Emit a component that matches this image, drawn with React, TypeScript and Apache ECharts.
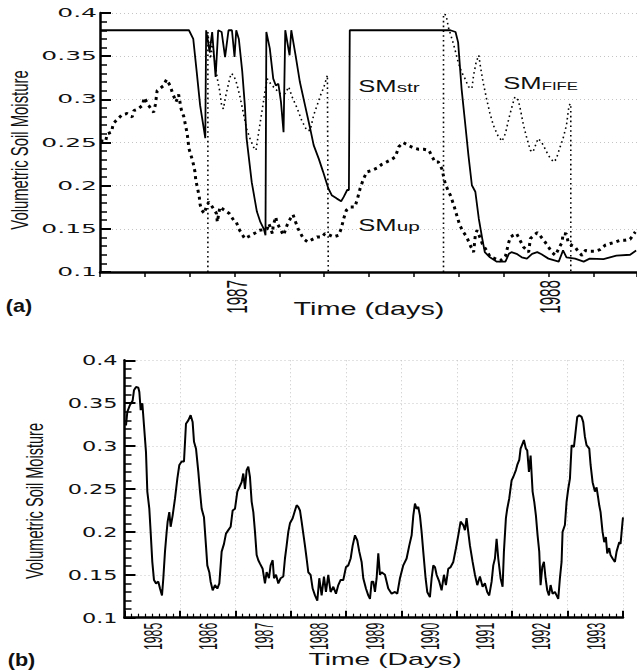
import React, { useEffect, useRef } from "react";
import * as echarts from "echarts";

// ---------- axis definitions ----------
const DAYS_PER_TICK = 365 / 7; // top panel: one tick every ~52 days
const TOP_X_MIN_TICK = -3;
const TOP_X_MAX_DAY = 468; // days from 1 Jan 1987
const BOTTOM_X_MIN = 1985;
const BOTTOM_X_MAX = 1994;

const yTickValues = [0.1, 0.15, 0.2, 0.25, 0.3, 0.35, 0.4];
const yTickLabels = ["0.1", "0.15", "0.2", "0.25", "0.3", "0.35", "0.4"];
const topYearDays = [0, 365];
const topYearLabels = ["1987", "1988"];
const bottomYears = ["1985", "1986", "1987", "1988", "1989", "1990", "1991", "1992", "1993"];

// ---------- panel (a): [day since 1 Jan 1987, volumetric soil moisture] ----------
const smStr: [number, number][] = [
  [-156, 0.38], [-53, 0.38], [-48, 0.37], [-44, 0.332], [-40, 0.293], [-34, 0.255],
  [-33, 0.38], [-29, 0.355], [-26, 0.378], [-22, 0.326], [-19, 0.38], [-15, 0.378],
  [-11, 0.349], [-7, 0.38], [-3, 0.38], [0, 0.349], [2, 0.38], [5, 0.37], [9, 0.332],
  [12, 0.293], [14, 0.255], [20, 0.204], [26, 0.17], [30, 0.158], [34, 0.15], [36, 0.1425],
  [37, 0.378], [41, 0.359], [45, 0.324], [48, 0.316], [51, 0.318], [54, 0.297], [57, 0.262],
  [59, 0.38], [64, 0.351], [66, 0.38], [71, 0.351], [76, 0.32], [82, 0.293], [88, 0.266],
  [92, 0.247], [98, 0.231], [103, 0.216], [109, 0.197], [113, 0.189], [119, 0.185],
  [124, 0.182], [127, 0.187], [131, 0.195], [133, 0.195], [134, 0.38], [251, 0.38],
  [257, 0.378], [260, 0.366], [264, 0.3125], [268, 0.274], [272, 0.235], [276, 0.2005],
  [280, 0.193], [284, 0.162], [288, 0.139], [291, 0.123], [297, 0.117], [305, 0.112],
  [315, 0.112], [319, 0.121], [322, 0.123], [328, 0.121], [334, 0.117], [340, 0.1155],
  [346, 0.121], [352, 0.123], [357, 0.1205], [365, 0.1155], [377, 0.112], [382, 0.125],
  [386, 0.117], [396, 0.1155], [406, 0.112], [413, 0.1155], [429, 0.115], [444, 0.119],
  [460, 0.12], [467, 0.125],
];

const smUp: [number, number][] = [
  [-156, 0.252], [-150, 0.251], [-148, 0.26], [-143, 0.262], [-141, 0.272], [-135, 0.278],
  [-131, 0.282], [-125, 0.2835], [-119, 0.2796], [-117, 0.287], [-112, 0.289], [-107, 0.293],
  [-105, 0.302], [-100, 0.293], [-94, 0.285], [-92, 0.294], [-90, 0.31], [-83, 0.3155],
  [-79, 0.323], [-75, 0.316], [-72, 0.307], [-68, 0.297], [-65, 0.3055], [-62, 0.2885],
  [-59, 0.28], [-57, 0.27], [-55, 0.26], [-53, 0.243], [-50, 0.233], [-48, 0.2256],
  [-46, 0.216], [-45, 0.206], [-43, 0.197], [-41, 0.187], [-40, 0.178], [-38, 0.1715],
  [-35, 0.1677], [-33, 0.1753], [-30, 0.181], [-27, 0.1773], [-21, 0.1677], [-20, 0.158],
  [-17, 0.1753], [-10, 0.1703], [-6, 0.1677], [-1, 0.16], [2, 0.158], [5, 0.15],
  [9, 0.1433], [12, 0.1387], [17, 0.1414], [24, 0.1452], [29, 0.1483], [34, 0.149],
  [38, 0.15], [40, 0.156], [44, 0.1445], [45, 0.154], [48, 0.1637], [49, 0.158],
  [53, 0.15], [57, 0.1425], [61, 0.154], [65, 0.162], [68, 0.1665], [71, 0.158],
  [74, 0.15], [80, 0.1387], [85, 0.1348], [90, 0.1375], [96, 0.1406], [102, 0.1406],
  [105, 0.1445], [109, 0.1433], [115, 0.1406], [121, 0.1425], [124, 0.15], [127, 0.162],
  [130, 0.1715], [135, 0.1753], [140, 0.1753], [143, 0.185], [146, 0.1966], [150, 0.208],
  [154, 0.216], [160, 0.2178], [166, 0.2205], [171, 0.2245], [177, 0.2275], [183, 0.2306],
  [187, 0.2333], [191, 0.245], [196, 0.25], [202, 0.2468], [208, 0.2437], [214, 0.2422],
  [220, 0.2422], [226, 0.241], [230, 0.2333], [233, 0.2275], [237, 0.2275], [241, 0.2198],
  [243, 0.2112], [245, 0.2024], [249, 0.1927], [251, 0.1889], [255, 0.1773], [259, 0.1637],
  [262, 0.154], [266, 0.1464], [270, 0.1406], [274, 0.131], [278, 0.123], [280, 0.1425],
  [282, 0.1483], [286, 0.1387], [288, 0.133], [293, 0.125], [297, 0.118], [309, 0.113],
  [315, 0.118], [319, 0.1348], [321, 0.1406], [324, 0.1425], [328, 0.1445], [332, 0.1367],
  [336, 0.129], [342, 0.123], [344, 0.1387], [348, 0.1425], [352, 0.1456], [355, 0.1425],
  [361, 0.1348], [365, 0.129], [369, 0.123], [373, 0.1193], [381, 0.1348], [382, 0.1445],
  [386, 0.144], [388, 0.134], [392, 0.131], [396, 0.129], [400, 0.123], [404, 0.1193],
  [408, 0.125], [414, 0.124], [419, 0.124], [425, 0.126], [431, 0.131], [437, 0.133],
  [443, 0.1348], [448, 0.1367], [454, 0.1367], [460, 0.138], [466, 0.1464],
];

// FIFE observations: two campaigns, each drawn from the axis up and back down
const smFifeFirst: [number, number][] = [
  [-31, 0.1], [-31, 0.378], [-28, 0.347], [-26, 0.3665], [-24, 0.351], [-22, 0.3375],
  [-20, 0.324], [-17, 0.3085], [-15, 0.293], [-13, 0.289], [-10, 0.3047], [-7, 0.3183],
  [-4, 0.33], [-1, 0.328], [2, 0.32], [6, 0.3047], [10, 0.2854], [14, 0.266], [18, 0.2546],
  [22, 0.2448], [25, 0.241], [27, 0.2546], [30, 0.274], [33, 0.293], [36, 0.3125],
  [38, 0.324], [42, 0.318], [47, 0.3125], [53, 0.3067], [59, 0.3067], [63, 0.3145],
  [67, 0.3028], [73, 0.2893], [78, 0.2758], [84, 0.264], [88, 0.264], [92, 0.2816],
  [96, 0.293], [100, 0.3047], [104, 0.3145], [108, 0.328], [109, 0.1],
];
const smFifeSecond: [number, number][] = [
  [243, 0.1], [243, 0.399], [246, 0.3975], [249, 0.382], [251, 0.376], [255, 0.3627],
  [260, 0.3433], [264, 0.3317], [268, 0.324], [272, 0.3145], [276, 0.3125], [278, 0.328],
  [281, 0.3433], [284, 0.351], [286, 0.3375], [289, 0.32], [293, 0.301], [297, 0.2835],
  [301, 0.27], [306, 0.2584], [311, 0.2514], [315, 0.2604], [319, 0.2778], [323, 0.293],
  [326, 0.3028], [330, 0.299], [333, 0.2854], [336, 0.27], [340, 0.2546], [344, 0.241],
  [347, 0.239], [350, 0.2468], [353, 0.2546], [357, 0.2506], [361, 0.243], [365, 0.235],
  [371, 0.2275], [374, 0.2306], [378, 0.243], [382, 0.2546], [386, 0.27], [389, 0.293],
  [391, 0.295], [391, 0.1],
];

// ---------- panel (b): [decimal year, volumetric soil moisture] ----------
const smLongTerm: [number, number][] = [
  [1985.027, 0.324], [1985.051, 0.34], [1985.099, 0.348], [1985.147, 0.353], [1985.171, 0.365],
  [1985.208, 0.369], [1985.25, 0.368], [1985.268, 0.363], [1985.292, 0.342], [1985.322, 0.35],
  [1985.352, 0.324], [1985.388, 0.293], [1985.412, 0.247], [1985.448, 0.227], [1985.472, 0.2],
  [1985.502, 0.165], [1985.532, 0.144], [1985.569, 0.14], [1985.611, 0.142], [1985.641, 0.134],
  [1985.677, 0.126], [1985.701, 0.146], [1985.731, 0.177], [1985.761, 0.2], [1985.779, 0.212],
  [1985.809, 0.223], [1985.833, 0.206], [1985.869, 0.219], [1985.912, 0.239], [1985.954, 0.262],
  [1985.99, 0.278], [1986.032, 0.282], [1986.074, 0.282], [1986.11, 0.326], [1986.152, 0.33],
  [1986.194, 0.336], [1986.23, 0.328], [1986.255, 0.305], [1986.291, 0.297], [1986.333, 0.27],
  [1986.363, 0.247], [1986.393, 0.227], [1986.435, 0.217], [1986.471, 0.184], [1986.495, 0.161],
  [1986.531, 0.153], [1986.555, 0.142], [1986.592, 0.132], [1986.634, 0.138], [1986.676, 0.134],
  [1986.712, 0.14], [1986.754, 0.177], [1986.796, 0.186], [1986.832, 0.198], [1986.874, 0.202],
  [1986.916, 0.206], [1986.953, 0.225], [1986.995, 0.227], [1987.037, 0.247], [1987.073, 0.252],
  [1987.115, 0.258], [1987.145, 0.268], [1987.175, 0.25], [1987.205, 0.272], [1987.235, 0.276],
  [1987.265, 0.264], [1987.296, 0.235], [1987.326, 0.223], [1987.356, 0.2], [1987.386, 0.173],
  [1987.416, 0.167], [1987.446, 0.163], [1987.494, 0.157], [1987.536, 0.14], [1987.566, 0.153],
  [1987.608, 0.146], [1987.638, 0.161], [1987.675, 0.167], [1987.699, 0.146], [1987.735, 0.15],
  [1987.777, 0.14], [1987.819, 0.146], [1987.867, 0.148], [1987.897, 0.169], [1987.927, 0.184],
  [1987.957, 0.2], [1987.987, 0.21], [1988.036, 0.216], [1988.078, 0.225], [1988.108, 0.231],
  [1988.138, 0.229], [1988.168, 0.225], [1988.198, 0.212], [1988.228, 0.198], [1988.258, 0.184],
  [1988.288, 0.169], [1988.318, 0.153], [1988.36, 0.15], [1988.397, 0.134], [1988.439, 0.126],
  [1988.481, 0.12], [1988.517, 0.146], [1988.559, 0.126], [1988.601, 0.148], [1988.637, 0.13],
  [1988.679, 0.15], [1988.721, 0.13], [1988.77, 0.136], [1988.818, 0.128], [1988.86, 0.138],
  [1988.902, 0.144], [1988.95, 0.144], [1988.998, 0.159], [1989.04, 0.161], [1989.083, 0.169],
  [1989.119, 0.184], [1989.161, 0.196], [1989.203, 0.19], [1989.239, 0.177], [1989.281, 0.165],
  [1989.311, 0.146], [1989.359, 0.134], [1989.401, 0.126], [1989.432, 0.122], [1989.462, 0.142],
  [1989.492, 0.142], [1989.522, 0.13], [1989.552, 0.146], [1989.582, 0.175], [1989.612, 0.15],
  [1989.642, 0.153], [1989.702, 0.15], [1989.762, 0.134], [1989.823, 0.128], [1989.883, 0.13],
  [1989.925, 0.128], [1989.973, 0.146], [1990.033, 0.161], [1990.093, 0.169], [1990.141, 0.184],
  [1990.184, 0.196], [1990.214, 0.219], [1990.244, 0.233], [1990.274, 0.227], [1990.304, 0.229],
  [1990.334, 0.219], [1990.364, 0.2], [1990.394, 0.177], [1990.436, 0.146], [1990.466, 0.13],
  [1990.514, 0.124], [1990.545, 0.146], [1990.575, 0.161], [1990.605, 0.159], [1990.635, 0.15],
  [1990.683, 0.142], [1990.725, 0.132], [1990.767, 0.15], [1990.803, 0.138], [1990.845, 0.157],
  [1990.888, 0.159], [1990.936, 0.165], [1990.984, 0.181], [1991.026, 0.196], [1991.068, 0.212],
  [1991.116, 0.208], [1991.146, 0.202], [1991.176, 0.216], [1991.206, 0.2], [1991.237, 0.184],
  [1991.285, 0.165], [1991.327, 0.15], [1991.369, 0.138], [1991.417, 0.148], [1991.465, 0.136],
  [1991.507, 0.14], [1991.549, 0.13], [1991.585, 0.126], [1991.628, 0.142], [1991.658, 0.161],
  [1991.688, 0.169], [1991.718, 0.192], [1991.748, 0.169], [1991.79, 0.146], [1991.826, 0.136],
  [1991.85, 0.177], [1991.886, 0.216], [1991.91, 0.227], [1991.946, 0.239], [1991.989, 0.26],
  [1992.019, 0.264], [1992.067, 0.272], [1992.091, 0.278], [1992.127, 0.284], [1992.151, 0.297],
  [1992.187, 0.303], [1992.211, 0.307], [1992.247, 0.297], [1992.271, 0.295], [1992.302, 0.27],
  [1992.332, 0.289], [1992.368, 0.247], [1992.398, 0.235], [1992.428, 0.219], [1992.458, 0.196],
  [1992.488, 0.177], [1992.512, 0.138], [1992.542, 0.159], [1992.572, 0.165], [1992.602, 0.146],
  [1992.632, 0.132], [1992.663, 0.126], [1992.693, 0.138], [1992.729, 0.128], [1992.771, 0.13],
  [1992.801, 0.126], [1992.831, 0.122], [1992.861, 0.146], [1992.891, 0.165], [1992.909, 0.2],
  [1992.951, 0.208], [1992.981, 0.235], [1993.011, 0.25], [1993.042, 0.262], [1993.072, 0.301],
  [1993.114, 0.299], [1993.15, 0.32], [1993.174, 0.334], [1993.21, 0.336], [1993.252, 0.334],
  [1993.282, 0.328], [1993.312, 0.311], [1993.342, 0.301], [1993.391, 0.297], [1993.415, 0.278],
  [1993.451, 0.258], [1993.493, 0.247], [1993.523, 0.252], [1993.553, 0.239], [1993.571, 0.231],
  [1993.595, 0.223], [1993.631, 0.2], [1993.661, 0.188], [1993.691, 0.194], [1993.715, 0.175],
  [1993.751, 0.181], [1993.775, 0.173], [1993.812, 0.169], [1993.854, 0.165], [1993.884, 0.177],
  [1993.932, 0.188], [1993.956, 0.186], [1993.992, 0.212], [1994.0, 0.217],
];

const SANS = '"Liberation Sans", Arial, sans-serif';
const WIDE = '"DejaVu Sans", sans-serif';
const INK = "#000";
const TEXT = "#111";

export default function App() {
  const ref = useRef<HTMLDivElement>(null);

  useEffect(() => {
    const el = ref.current;
    if (!el) return;
    const chart = echarts.init(el, null, { renderer: "svg" });
    const toTick = (d: number) => d / DAYS_PER_TICK;

    const yAxisStyle = (gridIndex: number) => ({
      type: "value",
      gridIndex,
      min: 0.1,
      max: 0.4,
      interval: 0.05,
      axisLine: { show: true, onZero: false, lineStyle: { color: INK, width: 2.5 } },
      axisTick: { show: true, inside: true, length: 11, lineStyle: { color: INK, width: 2 } },
      minorTick: { show: true, splitNumber: 5, length: 7, lineStyle: { color: INK, width: 1.5 } },
      axisLabel: { show: false },
      splitLine: { show: true, lineStyle: { color: "#c4c4c4", width: 1, type: [1, 3] } },
    });

    const option: any = {
      animation: false,
      backgroundColor: "#fff",
      grid: [
        { left: 100, top: 13, width: 537, height: 259 },
        { left: 124.5, top: 360.3, width: 498.5, height: 257.4 },
      ],
      xAxis: [
        {
          type: "value",
          gridIndex: 0,
          min: TOP_X_MIN_TICK,
          max: toTick(TOP_X_MAX_DAY),
          interval: 1,
          axisLine: { show: true, onZero: false, lineStyle: { color: INK, width: 2.5 } },
          axisTick: { show: true, inside: false, length: 5, lineStyle: { color: INK, width: 1.5 } },
          axisLabel: { show: false },
          splitLine: { show: false },
        },
        {
          type: "value",
          gridIndex: 1,
          min: BOTTOM_X_MIN,
          max: BOTTOM_X_MAX,
          interval: 1,
          axisLine: { show: true, onZero: false, lineStyle: { color: INK, width: 2.5 } },
          axisTick: { show: true, inside: true, length: 7, lineStyle: { color: INK, width: 2 } },
          minorTick: { show: true, splitNumber: 8, length: 4, lineStyle: { color: INK, width: 1.2 } },
          axisLabel: { show: false },
          splitLine: { show: true, lineStyle: { color: "#c4c4c4", width: 1, type: [1, 3] } },
        },
      ],
      yAxis: [yAxisStyle(0), yAxisStyle(1)],
      series: [
        {
          name: "SMup",
          type: "line",
          xAxisIndex: 0,
          yAxisIndex: 0,
          data: smUp.map(([d, v]) => [toTick(d), v]),
          showSymbol: false,
          silent: true,
          lineStyle: { color: INK, width: 3, type: [3, 4], cap: "butt" },
        },
        {
          name: "SMFIFE",
          type: "line",
          xAxisIndex: 0,
          yAxisIndex: 0,
          data: smFifeFirst.map(([d, v]) => [toTick(d), v]),
          showSymbol: false,
          silent: true,
          lineStyle: { color: INK, width: 1.6, type: [1.6, 3.2], cap: "butt" },
        },
        {
          name: "SMFIFE",
          type: "line",
          xAxisIndex: 0,
          yAxisIndex: 0,
          data: smFifeSecond.map(([d, v]) => [toTick(d), v]),
          showSymbol: false,
          silent: true,
          lineStyle: { color: INK, width: 1.6, type: [1.6, 3.2], cap: "butt" },
        },
        {
          name: "SMstr",
          type: "line",
          xAxisIndex: 0,
          yAxisIndex: 0,
          data: smStr.map(([d, v]) => [toTick(d), v]),
          showSymbol: false,
          silent: true,
          lineStyle: { color: INK, width: 1.8 },
          z: 3,
        },
        {
          name: "SM",
          type: "line",
          xAxisIndex: 1,
          yAxisIndex: 1,
          data: smLongTerm,
          showSymbol: false,
          silent: true,
          lineStyle: { color: INK, width: 2 },
        },
      ],
    };

    chart.setOption(option);

    const g: any[] = [];
    const txt = (x: number, y: number, text: string, s: any, extra: any = {}) =>
      g.push({ type: "text", x, y, silent: true, ...extra, style: { text, fill: TEXT, ...s } });

    // y tick labels, both panels (placed through the axes' own scales)
    yTickValues.forEach((v, i) => {
      const a = chart.convertToPixel({ gridIndex: 0 }, [TOP_X_MIN_TICK, v]) as number[];
      txt(a[0] - 3, a[1], yTickLabels[i], { fontSize: 12.5, fontFamily: WIDE, align: "right", verticalAlign: "middle" }, { scaleX: 2 });
      const b = chart.convertToPixel({ gridIndex: 1 }, [BOTTOM_X_MIN, v]) as number[];
      txt(b[0] - 7, b[1], yTickLabels[i], { fontSize: 14, fontFamily: WIDE, align: "right", verticalAlign: "middle" }, { scaleX: 1.6 });
    });

    // top x labels (years, rotated)
    topYearDays.forEach((d, i) => {
      const p = chart.convertToPixel({ gridIndex: 0 }, [toTick(d), 0.1]) as number[];
      txt(p[0] + 2, p[1] + 8, topYearLabels[i], { fontSize: 16, fontFamily: SANS, align: "right", verticalAlign: "middle" }, { rotation: Math.PI / 2, scaleX: 0.95, scaleY: 1.8 });
    });

    // bottom x labels (years centred in each year)
    bottomYears.forEach((label, i) => {
      const p = chart.convertToPixel({ gridIndex: 1 }, [BOTTOM_X_MIN + i + 0.5, 0.1]) as number[];
      txt(p[0] + 1, p[1] + 5, label, { fontSize: 14, fontFamily: SANS, align: "right", verticalAlign: "middle" }, { rotation: Math.PI / 2, scaleX: 0.88, scaleY: 1.8 });
    });

    // axis titles
    txt(20, 150, "Volumetric Soil Moisture", { fontSize: 16, fontFamily: SANS, align: "center", verticalAlign: "middle" }, { rotation: Math.PI / 2, scaleX: 0.93, scaleY: 1.45 });
    txt(35, 501, "Volumetric Soil Moisture", { fontSize: 16, fontFamily: SANS, align: "center", verticalAlign: "middle" }, { rotation: Math.PI / 2, scaleX: 0.91, scaleY: 1.45 });
    txt(369, 309, "Time (days)", { fontSize: 18, fontFamily: SANS, align: "center", verticalAlign: "middle" }, { scaleX: 1.6 });
    txt(385, 659, "Time (Days)", { fontSize: 16, fontFamily: SANS, align: "center", verticalAlign: "middle" }, { scaleX: 1.77 });

    // panel letters
    txt(19, 306, "(a)", { fontSize: 18, fontFamily: SANS, fontWeight: "bold", align: "center", verticalAlign: "middle" }, { scaleX: 1.2 });
    txt(21.5, 659.5, "(b)", { fontSize: 18, fontFamily: SANS, fontWeight: "bold", align: "center", verticalAlign: "middle" }, { scaleX: 1.2 });

    // series annotations with subscripts
    const rich = (sub: number) => ({
      m: { fontSize: 16, fontFamily: SANS, fill: TEXT },
      s: { fontSize: sub, fontFamily: SANS, fill: TEXT, verticalAlign: "bottom" },
    });
    txt(358.3, 94.5, "{m|SM}{s|str}", { align: "left", verticalAlign: "bottom", rich: rich(13) }, { scaleX: 1.6 });
    txt(358.3, 233.5, "{m|SM}{s|up}", { align: "left", verticalAlign: "bottom", rich: rich(13) }, { scaleX: 1.6 });
    txt(503.3, 91.5, "{m|SM}{s|FIFE}", { align: "left", verticalAlign: "bottom", rich: rich(10.5) }, { scaleX: 1.6 });

    chart.setOption({ graphic: { elements: g } });

    return () => chart.dispose();
  }, []);

  return (
    <div
      ref={ref}
      style={{ position: "absolute", left: 0, top: 0, width: 637, height: 671, background: "#fff" }}
    />
  );
}
